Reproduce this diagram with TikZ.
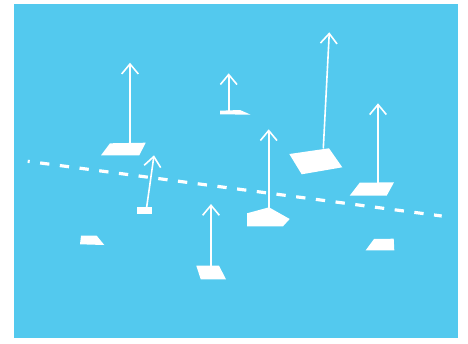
\documentclass[tikz,border=0pt]{standalone}
\definecolor{skyblue}{RGB}{83,201,238}
\usepackage{tikz}
\usetikzlibrary{arrows.meta}

\begin{document}
\begin{tikzpicture}[x=0.75pt, y=-0.75pt,
      tile/.style={fill=white, draw=none},
      vec/.style={-{Straight Barb[length=7.5pt, width=12.5pt]}, white, line width=1.2pt},
      trend/.style={white, line width=2.4pt, dash pattern=on 7pt off 7.9pt, dash phase=5.5pt}
    ]
      \useasboundingbox (0,0) rectangle (468,343);
      \fill[skyblue] (14,4) rectangle (458,338);
      % dashed trend line
      \coordinate (trendL) at (27.7,161.3);
      \coordinate (trendR) at (441.7,216);
      \draw[trend] (trendL) -- (trendR);
      % tiles
      \fill[tile] (101,155.3) -- (110,143.3) -- (145.7,142.7) -- (139.3,155.3) -- cycle;
      \fill[tile] (136.7,207) rectangle (152,213.7);
      \fill[tile] (220,110.7) -- (220,114.3) -- (250.7,114.7) -- (240,110) -- cycle;
      \fill[tile] (289.3,154) -- (301.7,174.3) -- (342.3,167.3) -- (329,148.3) -- cycle;
      \fill[tile] (349.7,195.7) -- (359.7,182.7) -- (394,182.3) -- (386.7,195.7) -- cycle;
      \fill[tile] (247,213.3) -- (269,207.3) -- (289.7,219) -- (283,226.3) -- (247,226.3) -- cycle;
      \fill[tile] (196.3,265.7) -- (200.7,279.3) -- (226,279.3) -- (219,265.7) -- cycle;
      \fill[tile] (81,235.7) -- (80,244.3) -- (104.3,245) -- (96.7,235.7) -- cycle;
      \fill[tile] (365.7,250.3) -- (374,239) -- (393.7,238.7) -- (394.3,250.3) -- cycle;
      % arrow ends
      \coordinate (baseA) at (130,142.7);   \coordinate (tipA) at (130,62.7);
      \coordinate (baseB) at (146.7,207);   \coordinate (tipB) at (154,155.3);
      \coordinate (baseC) at (228.7,110.5); \coordinate (tipC) at (228.7,73.3);
      \coordinate (baseD) at (323.3,148.5); \coordinate (tipD) at (329.3,32.3);
      \coordinate (baseE) at (378,182.5);   \coordinate (tipE) at (378,103.3);
      \coordinate (baseF) at (268.7,207.5); \coordinate (tipF) at (268.7,129.3);
      \coordinate (baseG) at (211,266);     \coordinate (tipG) at (211,204);
      \foreach \v in {A,B,C,D,E,F,G}
        \draw[vec] (base\v) -- (tip\v);
    \end{tikzpicture}
\end{document}
